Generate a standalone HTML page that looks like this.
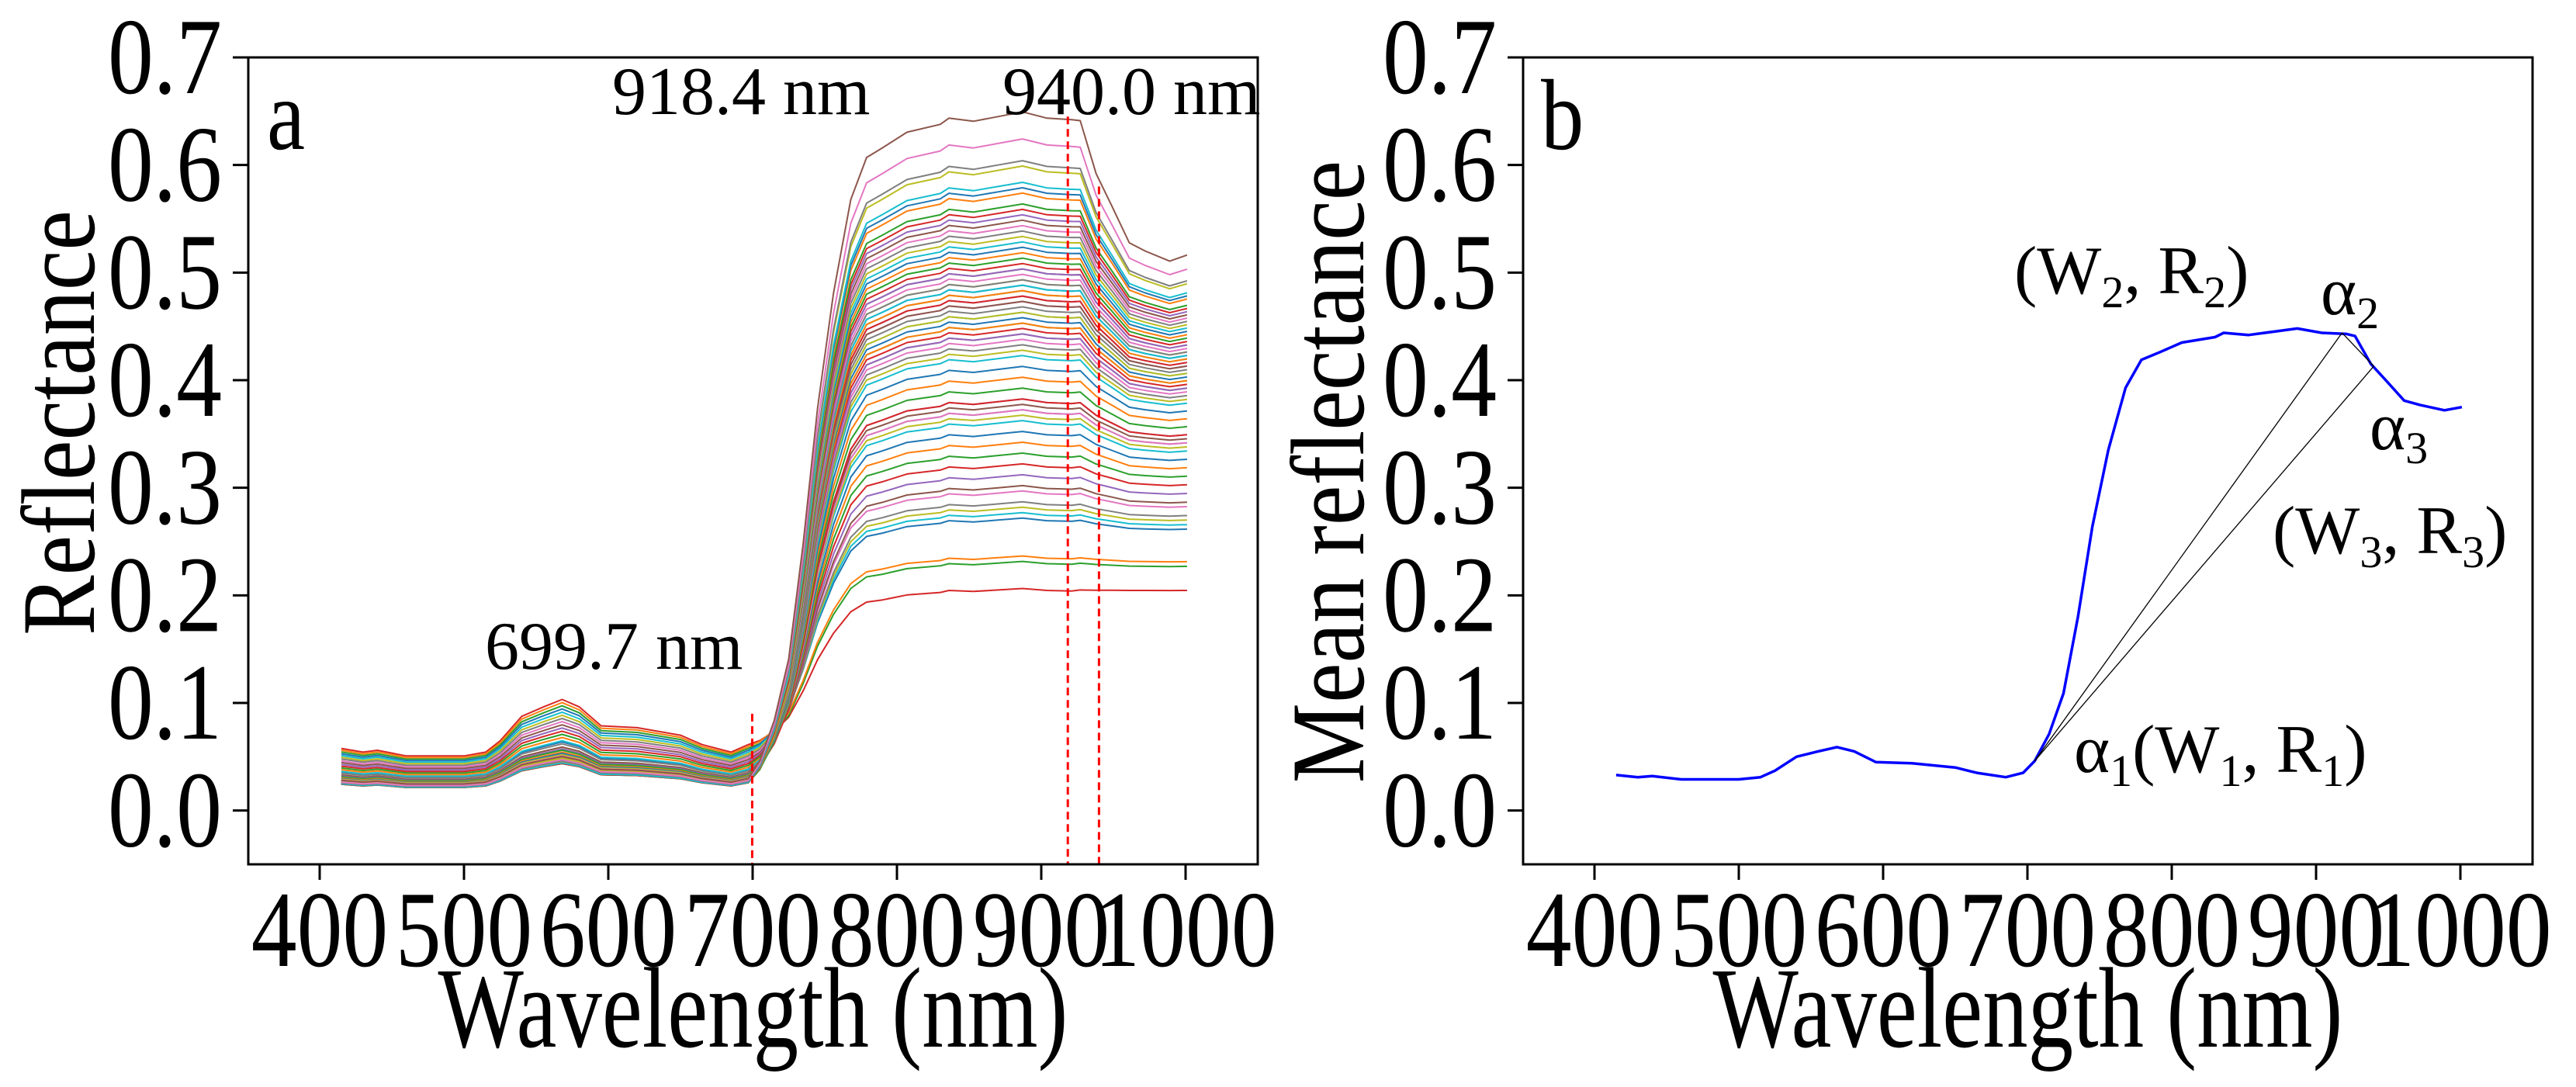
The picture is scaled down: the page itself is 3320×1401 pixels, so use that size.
<!DOCTYPE html>
<html><head><meta charset="utf-8"><style>
html,body{margin:0;padding:0;background:#fff;}
svg{display:block;font-family:"Liberation Serif",serif;}
</style></head><body>
<svg id="fig" width="3320" height="1401" viewBox="0 0 3320 1401" xmlns="http://www.w3.org/2000/svg">
<rect width="3320" height="1401" fill="#fff"/>
<g id="pa"></g>
<g id="pb"></g>
</svg>
<script>
// wavelength grid and mean reflectance
const wavelengths = [415,430,440,460,480,500,515,525,540,555,568,580,595,620,650,665,685,697,705,715,725,735,745,756,768,779,790,807,830,836,853,870,887,904,921,927,938,949,961,972,989,1001];
const meanReflectance = [0.033,0.031,0.032,0.029,0.029,0.029,0.031,0.037,0.050,0.055,0.059,0.055,0.045,0.044,0.040,0.035,0.031,0.035,0.046,0.071,0.109,0.180,0.264,0.335,0.393,0.419,0.425,0.435,0.440,0.444,0.442,0.445,0.448,0.444,0.443,0.441,0.415,0.399,0.381,0.377,0.372,0.375];
// per-sample NIR plateau level and visible scale (panel a)
const nirLevels = [0.645,0.62,0.60,0.595,0.58,0.575,0.57,0.56,0.555,0.55,0.545,0.54,0.535,0.53,0.525,0.52,0.515,0.51,0.505,0.50,0.50,0.495,0.49,0.49,0.485,0.485,0.48,0.48,0.475,0.475,0.47,0.47,0.465,0.46,0.46,0.455,0.45,0.45,0.445,0.44,0.44,0.435,0.43,0.425,0.42,0.41,0.40,0.39,0.38,0.38,0.375,0.37,0.37,0.365,0.36,0.35,0.34,0.33,0.32,0.31,0.30,0.295,0.285,0.28,0.275,0.27,0.235,0.23,0.205];
const visScales = [0.85,0.8,0.78,0.82,0.75,0.8,0.77,0.79,0.74,0.8,0.76,0.78,0.8,0.75,0.77,0.79,0.76,0.74,0.8,0.78,0.82,0.75,0.77,0.79,0.8,0.76,0.78,0.74,0.81,0.77,0.79,0.8,0.76,0.83,0.78,0.8,0.82,0.77,0.85,0.8,0.83,0.86,0.82,0.88,0.85,0.9,0.92,0.95,0.9,0.97,1.0,0.95,1.05,1.0,1.1,1.08,1.15,1.2,1.25,1.3,1.35,1.4,1.45,1.5,1.55,1.6,1.7,1.65,1.75];
const xTicks = [400,500,600,700,800,900,1000];
const yTicks = [0.0,0.1,0.2,0.3,0.4,0.5,0.6,0.7];
const redLines = [699.7,918.4,940.0];
const redTops = [0.09,0.645,0.58];
const colors = ['#1f77b4','#ff7f0e','#2ca02c','#d62728','#9467bd','#8c564b','#e377c2','#7f7f7f','#bcbd22','#17becf'];

const NS='http://www.w3.org/2000/svg';
function mk(parent,tag,attrs,text){const e=document.createElementNS(NS,tag);for(const k in attrs)e.setAttribute(k,attrs[k]);if(text!==undefined)e.textContent=text;parent.appendChild(e);return e;}
const T=74,B=1114,W=1301;
function axes(g,L){
  const x=v=>L+92+(v-400)*((1208-92)/600);
  const y=v=>T+(0.7-v)/0.75*(B-T);
  return {x,y};
}
function ctext(g,x,y,size,sx,anchor,str,rot){
  return mk(g,'text',{x:0,y:0,'font-size':size,'text-anchor':anchor,transform:`translate(${x},${y})${rot?' rotate(-90)':''} scale(${sx},1)`},str);
}
function frame(g,L,ax,ylabel,ylx,ylc,name){
  for(const t of yTicks){
    const tk=mk(g,'line',{x1:L-20,x2:L,y1:ax.y(t),y2:ax.y(t),stroke:'#000','stroke-width':3});
    
    
    const lb=ctext(g,L-34,ax.y(t)+46,140,0.84,'end',t.toFixed(1));
    
    
  }
  for(const t of xTicks){
    const tk=mk(g,'line',{x1:ax.x(t),x2:ax.x(t),y1:B,y2:B+20,stroke:'#000','stroke-width':3});
    
    
    const lb=ctext(g,ax.x(t),1245,140,0.84,'middle',String(t));
    
    
  }
  const r=mk(g,'rect',{x:L,y:T,width:W,height:B-T,fill:'none',stroke:'#000','stroke-width':3});
  
  
  const xl=ctext(g,L+W/2,1349,148,0.79,'middle','Wavelength (nm)');
  
  
  const yl=ctext(g,ylx,ylc,135,0.86,'middle',ylabel,true);
  
  
}
// Panel a
(function(){
  const g=document.getElementById('pa');const L=320;const ax=axes(g,L);
  const cg=mk(g,'g',{});
  
  
  const order=nirLevels.map((_,i)=>i).reverse();
  for(const i of order){
    let d='';
    const kTail=Math.max(0,(nirLevels[i]-0.2)/0.445*1.3);
    const vb=visScales[i]*0.035;
    wavelengths.forEach((w,k)=>{
      const m=meanReflectance[k];
      let r;
      if(w<700){ r=visScales[i]*m; }
      else if(w<790){
        const t=Math.max(0,Math.min(1,(m-0.035)/(0.425-0.035)));
        r=vb+(nirLevels[i]/0.445*0.425-vb)*t;
      } else if(w<=921){ r=nirLevels[i]/0.445*m; }
      else { r=nirLevels[i]*(1-(1-m/0.443)*kTail); }
      d+=(k?'L':'M')+ax.x(w).toFixed(1)+' '+ax.y(r).toFixed(1);
    });
    const p=mk(cg,'path',{d,fill:'none',stroke:colors[(i+5)%10],'stroke-width':2,'stroke-linejoin':'round'});
    
    
  }
  redLines.forEach((w,i)=>{
    const l=mk(g,'line',{x1:ax.x(w),x2:ax.x(w),y1:ax.y(redTops[i]),y2:B,stroke:'#ff0000','stroke-width':3,'stroke-dasharray':'10,6'});
    
    
  });
  frame(g,L,ax,'Reflectance',121,545,'panel-a');
  const lbls=[['918.4 nm',789,147],['940.0 nm',1292,147],['699.7 nm',625,862]];
  for(const [s,x,y] of lbls){const t=mk(g,'text',{x,y,'font-size':88},s);
    
    }
  const a=ctext(g,344,192,130,0.85,'start','a');
  
  
})();
// Panel b
(function(){
  const g=document.getElementById('pb');const L=1963;const ax=axes(g,L);
  let d='';
  wavelengths.forEach((w,k)=>{d+=(k?'L':'M')+ax.x(w).toFixed(1)+' '+ax.y(meanReflectance[k]).toFixed(1);});
  const p=mk(g,'path',{d,fill:'none',stroke:'#0000ff','stroke-width':3.5,'stroke-linejoin':'round'});
  
  
  const P1=[705,0.046],P2=[918,0.444],P3=[940,0.413];
  const segs=[[P1,P2],[P1,P3],[P2,P3]];
  for(const [a,b] of segs){const l=mk(g,'line',{x1:ax.x(a[0]),y1:ax.y(a[1]),x2:ax.x(b[0]),y2:ax.y(b[1]),stroke:'#000','stroke-width':1.3});
    
    }
  frame(g,L,ax,'Mean reflectance',1757,608,'panel-b');
  const fs=88;
  const ann=[
    [2596,378,'(W<tspan font-size="58" dy="18">2</tspan><tspan dy="-18">, R</tspan><tspan font-size="58" dy="18">2</tspan><tspan dy="-18">)</tspan>'],
    [2991,405,'α<tspan font-size="58" dy="18">2</tspan>'],
    [3054,579,'α<tspan font-size="58" dy="18">3</tspan>'],
    [2929,713,'(W<tspan font-size="58" dy="18">3</tspan><tspan dy="-18">, R</tspan><tspan font-size="58" dy="18">3</tspan><tspan dy="-18">)</tspan>'],
    [2673,995,'α<tspan font-size="58" dy="18">1</tspan><tspan dy="-18">(W</tspan><tspan font-size="58" dy="18">1</tspan><tspan dy="-18">, R</tspan><tspan font-size="58" dy="18">1</tspan><tspan dy="-18">)</tspan>']
  ];
  for(const [x,y,h] of ann){const t=mk(g,'text',{x,y,'font-size':fs});t.innerHTML=h;
    
    }
  const b=ctext(g,1986,192,130,0.85,'start','b');
  
  
})();
</script>
</body></html>
